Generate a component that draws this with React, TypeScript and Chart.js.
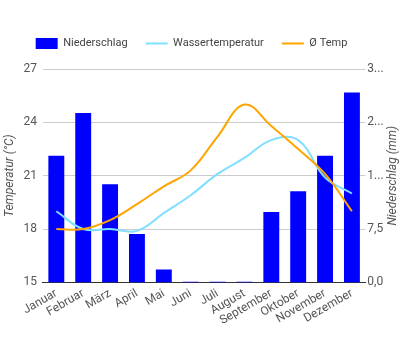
import React, { useEffect, useRef } from "react";
import { Chart, registerables } from "chart.js";

Chart.register(...registerables);

const months = ["Januar", "Februar", "März", "April", "Mai", "Juni", "Juli", "August", "September", "Oktober", "November", "Dezember"];
const precipitation = [17.8, 23.8, 13.8, 6.8, 1.8, 0.1, 0.1, 0.1, 9.9, 12.8, 17.8, 26.7];
const waterTemp = [19.0, 18.0, 18.0, 17.9, 18.9, 19.9, 21.1, 22.0, 23.0, 23.0, 20.9, 20.0];
const avgTemp = [18.0, 18.0, 18.5, 19.4, 20.4, 21.3, 23.2, 25.0, 23.8, 22.5, 21.1, 19.0];

const FONT = "Roboto, 'Noto Sans', sans-serif";
const RIGHT_TITLE = "Niederschlag (mm)";

const rightTitlePlugin = {
  id: "rightTitle",
  afterDraw(chart: any) {
    const s = chart.scales.y1;
    if (!s) return;
    const ctx = chart.ctx;
    ctx.save();
    ctx.font = `italic 12px ${FONT}`;
    ctx.fillStyle = "#555";
    ctx.textAlign = "center";
    ctx.textBaseline = "middle";
    ctx.translate(s.right - 7.2, (s.top + s.bottom) / 2);
    ctx.rotate(-Math.PI / 2);
    ctx.fillText(RIGHT_TITLE, 0, 0);
    ctx.restore();
  },
};

const legendGapPlugin = {
  id: "legendGap",
  beforeInit(chart: any) {
    const legend = chart.legend;
    if (!legend) return;
    const orig = legend.fit;
    legend.fit = function () {
      orig.call(this);
      this.height += 10;
    };
  },
  afterLayout(chart: any) {
    const legend = chart.legend;
    if (!legend) return;
    legend.left -= 10;
    legend.right -= 10;
  },
};

export default function App() {
  const ref = useRef<HTMLCanvasElement>(null);
  useEffect(() => {
    if (!ref.current) return;
    const chart = new Chart(ref.current, {
      type: "bar",
      data: {
        labels: months,
        datasets: [
          {
            type: "bar",
            label: "Niederschlag",
            data: precipitation,
            backgroundColor: "#0000ff",
            borderWidth: 0,
            yAxisID: "y1",
            order: 2,
            barPercentage: 0.74,
            categoryPercentage: 0.8,
          } as any,
          {
            type: "line",
            label: "Wassertemperatur",
            data: waterTemp,
            borderColor: "#80dfff",
            backgroundColor: "#80dfff",
            borderWidth: 2,
            pointRadius: 0,
            tension: 0.4,
            yAxisID: "y",
            order: 1,
          },
          {
            type: "line",
            label: "Ø Temp",
            data: avgTemp,
            borderColor: "#ffa500",
            backgroundColor: "#ffa500",
            borderWidth: 2,
            pointRadius: 0,
            tension: 0.4,
            yAxisID: "y",
            order: 0,
          },
        ],
      },
      options: {
        animation: false,
        responsive: true,
        maintainAspectRatio: false,
        layout: { padding: { top: 20, left: 3, right: 0, bottom: 18 } },
        font: { family: FONT, size: 12 },
        plugins: {
          tooltip: { enabled: false },
          legend: {
            position: "top",
            labels: {
              color: "#444",
              font: { family: FONT, size: 11 },
              usePointStyle: true,
              pointStyleWidth: 22,
              boxHeight: 11,
              padding: 18,
              sort: (a: any, b: any) => a.datasetIndex - b.datasetIndex,
              generateLabels: (chart: any) =>
                Chart.defaults.plugins.legend.labels.generateLabels(chart).map((l: any) => ({
                  ...l,
                  pointStyle: l.datasetIndex === 0 ? "rect" : "line",
                  lineWidth: l.datasetIndex === 0 ? 0 : 2,
                })),
            },
          },
        },
        scales: {
          x: {
            grid: { display: false, drawTicks: false },
            border: { display: true, color: "#333", width: 1 },
            ticks: {
              color: "#555",
              font: { family: FONT, size: 12 },
              minRotation: 30,
              maxRotation: 30,
              autoSkip: false,
              padding: 4,
            },
          },
          y: {
            position: "left",
            min: 15,
            max: 27,
            grid: { color: "#cccccc", drawTicks: false },
            border: { display: false },
            ticks: { stepSize: 3, color: "#555", font: { family: FONT, size: 12 }, padding: 6 },
            title: {
              display: true,
              text: "Temperatur (°C)",
              color: "#555",
              font: { family: FONT, size: 12, style: "italic" },
              padding: 0,
            },
          },
          y1: {
            position: "right",
            min: 0,
            max: 30,
            grid: { display: false, drawTicks: false },
            border: { display: false },
            ticks: {
              stepSize: 7.5,
              color: "#555",
              font: { family: FONT, size: 12 },
              padding: 2,
              callback: (v: any) => {
                const s = Number(v).toFixed(1).replace(".", ",");
                return s.length > 3 ? s[0] + "..." : s;
              },
            },
            title: {
              display: true,
              text: RIGHT_TITLE,
              color: "rgba(0,0,0,0)",
              font: { family: FONT, size: 12, style: "italic" },
              padding: 0,
            },
          },
        },
      },
      plugins: [legendGapPlugin, rightTitlePlugin],
    });
    return () => chart.destroy();
  }, []);
  return (
    <div style={{ position: "absolute", left: 0, top: 0, width: 400, height: 350 }}>
      <canvas ref={ref} />
    </div>
  );
}
